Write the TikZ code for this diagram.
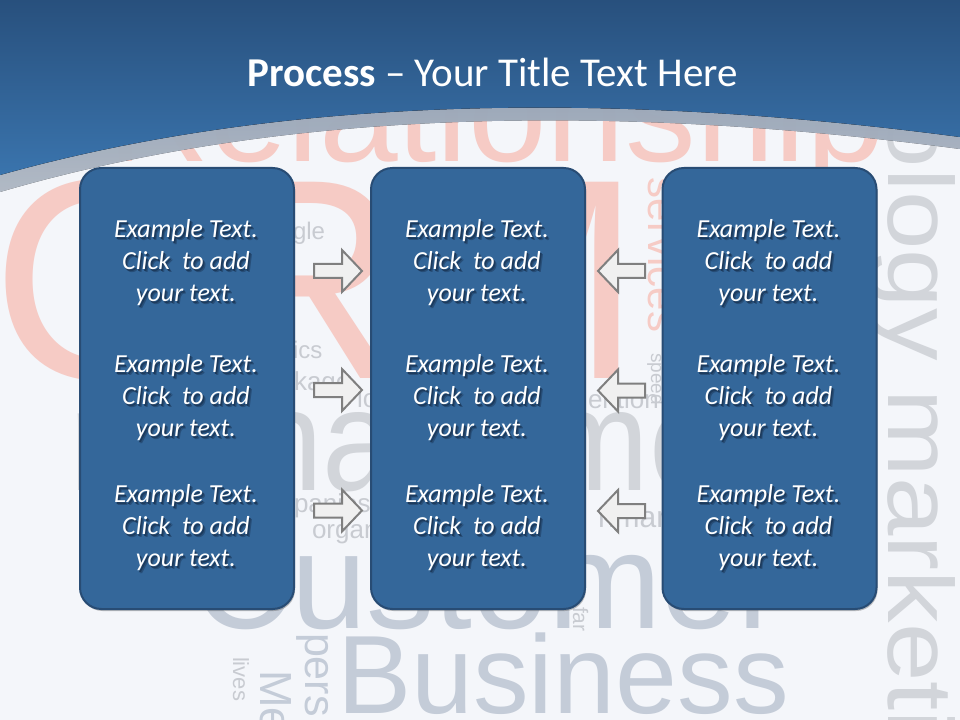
\documentclass[tikz,border=0pt]{standalone}
\usepackage{fontspec}
\usepackage{graphicx}
\setmainfont{Carlito}
\newfontfamily\cloudfont{Liberation Sans}
\usetikzlibrary{shadows}

\definecolor{bgc}{HTML}{F4F6FA}
\definecolor{hdtop}{HTML}{28507D}
\definecolor{hdbot}{HTML}{3A74AD}
\definecolor{bandtop}{HTML}{AEBDD2}
\definecolor{bandbot}{HTML}{CAD4E1}
\definecolor{boxfill}{HTML}{34679A}
\definecolor{boxline}{HTML}{284C74}
\definecolor{shadc}{HTML}{1C3A5C}
\definecolor{pinkc}{HTML}{F6CBC5}
\definecolor{grayc}{HTML}{D2D5DA}
\definecolor{bluegray}{HTML}{C4CCD8}
\definecolor{smallc}{HTML}{C8CBD1}
\definecolor{arrline}{HTML}{7F7F7F}
\definecolor{arrfill}{HTML}{F0F0F0}

\newcommand{\cf}[1]{\cloudfont\fontsize{#1}{#1}\selectfont}
\newcommand{\shd}[1]{\leavevmode\rlap{\kern2pt\raisebox{-2.4pt}{\textcolor{shadc!55!boxfill}{#1}}}\rlap{\kern1.1pt\raisebox{-1.4pt}{\textcolor{shadc}{#1}}}#1}

\begin{document}
\begin{tikzpicture}[x=0.75pt,y=-0.75pt,
  cloud/.style={inner sep=0pt, outer sep=0pt, anchor=base west},
  bigbox/.style={draw=boxline, line width=1.5pt, fill=boxfill, rounded corners=16pt,
    minimum width=160.5pt, minimum height=330.75pt, inner sep=0pt,
    drop shadow={shadow xshift=0.8pt, shadow yshift=-1.5pt, opacity=0.35, fill=black!70}},
  boxtext/.style={text=white, align=center, inner sep=0pt,
    font=\fontsize{19.5pt}{24pt}\selectfont\itshape},
  titlenode/.style={anchor=base, text=white, inner sep=0pt,
    font=\fontsize{30.75pt}{36pt}\selectfont},
  blockarrow/.style={draw=arrline, fill=arrfill, line width=1.5pt, line join=miter}
]
\clip (0,0) rectangle (960,720);
\fill[bgc] (0,0) rectangle (960,720);

% ---- word cloud background ----
\node[cloud, text=pinkc, font=\cf{214pt}] (wcrm) at (-8,378) {CRM};
\node[cloud, text=pinkc, font=\cf{106pt}] (wrel) at (107,162) {Relationship};
\node[cloud, text=grayc, font=\cf{108.75pt}] (wman) at (69,490) {\scalebox{0.9}[1]{management}};
\node[cloud, text=bluegray, font=\cf{102pt}] (wcus) at (193,628) {Customer};
\node[cloud, text=bluegray, font=\cf{83.5pt}] (wbus) at (337,713) {Business};
\node[cloud, text=grayc, font=\cf{78.75pt}, rotate=-90] (wtech) at (888,-147) {\scalebox{1}[0.88]{technology marketing}};
\node[cloud, text=pinkc, font=\cf{31.5pt}, rotate=-90] (wserv) at (648,178) {services};
\node[cloud, text=smallc, font=\cf{14.25pt}, rotate=-90] (wspeed) at (651,353) {speed};
\node[cloud, text=smallc, font=\cf{18pt}] (wgle) at (293,240) {gle};
\node[cloud, text=smallc, font=\cf{18pt}] (wics) at (293,358) {ics};
\node[cloud, text=smallc, font=\cf{19.5pt}] (wkage) at (294,390) {kage};
\node[cloud, text=smallc, font=\cf{19.5pt}] (wlo) at (357,407) {lo};
\node[cloud, text=smallc, font=\cf{19.5pt}] (wpan) at (294,512) {panies};
\node[cloud, text=smallc, font=\cf{19.5pt}] (worg) at (312,538) {organ};
\node[cloud, text=smallc, font=\cf{19.5pt}] (went) at (588,408) {ention};
\node[cloud, text=smallc, font=\cf{22.5pt}] (wnmar) at (598,527) {nmar};
\node[cloud, text=smallc, font=\cf{16.5pt}, rotate=-90] (wlives) at (233,657) {lives};
\node[cloud, text=bluegray, font=\cf{33.75pt}, rotate=-90] (wme) at (260,670) {Me};
\node[cloud, text=bluegray, font=\cf{32.25pt}, rotate=-90] (wpers) at (305,633) {pers};
\node[cloud, text=smallc, font=\cf{15.75pt}, rotate=-90] (wfar) at (573,607) {far};

% ---- header ----
\fill[top color=bandtop, bottom color=bandbot, fill opacity=0.85]
  (0,175) .. controls (266.7,100.3) and (586.7,87.7) .. (960,137)
  -- (960,149) .. controls (586.7,99.7) and (266.7,114) .. (0,192) -- cycle;
\fill[top color=hdtop, bottom color=hdbot]
  (0,0) -- (960,0) -- (960,137) .. controls (586.7,87.7) and (266.7,100.3) .. (0,175) -- cycle;

\node[titlenode] (title) at (492.5,87) {\textbf{Process} – Your Title Text Here};

% ---- boxes ----
\node[bigbox] (box1) at (187,388.5) {};
\node[bigbox] (box2) at (478,388.5) {};
\node[bigbox] (box3) at (769.5,388.5) {};

\node[boxtext] (t11) at (186,264) {\shd{Example Text.}\\\shd{Click~~to add}\\\shd{your text.}};
\node[boxtext] (t12) at (186,399) {\shd{Example Text.}\\\shd{Click~~to add}\\\shd{your text.}};
\node[boxtext] (t13) at (186,529) {\shd{Example Text.}\\\shd{Click~~to add}\\\shd{your text.}};
\node[boxtext] (t21) at (477,264) {\shd{Example Text.}\\\shd{Click~~to add}\\\shd{your text.}};
\node[boxtext] (t22) at (477,399) {\shd{Example Text.}\\\shd{Click~~to add}\\\shd{your text.}};
\node[boxtext] (t23) at (477,529) {\shd{Example Text.}\\\shd{Click~~to add}\\\shd{your text.}};
\node[boxtext] (t31) at (768.5,264) {\shd{Example Text.}\\\shd{Click~~to add}\\\shd{your text.}};
\node[boxtext] (t32) at (768.5,399) {\shd{Example Text.}\\\shd{Click~~to add}\\\shd{your text.}};
\node[boxtext] (t33) at (768.5,529) {\shd{Example Text.}\\\shd{Click~~to add}\\\shd{your text.}};

% ---- block arrows ----
\coordinate (ra1) at (314,271);
\coordinate (ra2) at (314,390);
\coordinate (ra3) at (314,510.5);
\coordinate (la1) at (645,271);
\coordinate (la2) at (645,390.5);
\coordinate (la3) at (645,511);
\foreach \c in {ra1,ra2,ra3}{
  \draw[blockarrow] (\c) ++(0,-7) -- ++(28,0) -- ++(0,-14) -- ++(20,21)
    -- ++(-20,21) -- ++(0,-14) -- ++(-28,0) -- cycle;
}
\foreach \c in {la1,la2,la3}{
  \draw[blockarrow] (\c) ++(0,-7) -- ++(-27,0) -- ++(0,-14) -- ++(-20,21)
    -- ++(20,21) -- ++(0,-14) -- ++(27,0) -- cycle;
}
\end{tikzpicture}
\end{document}
